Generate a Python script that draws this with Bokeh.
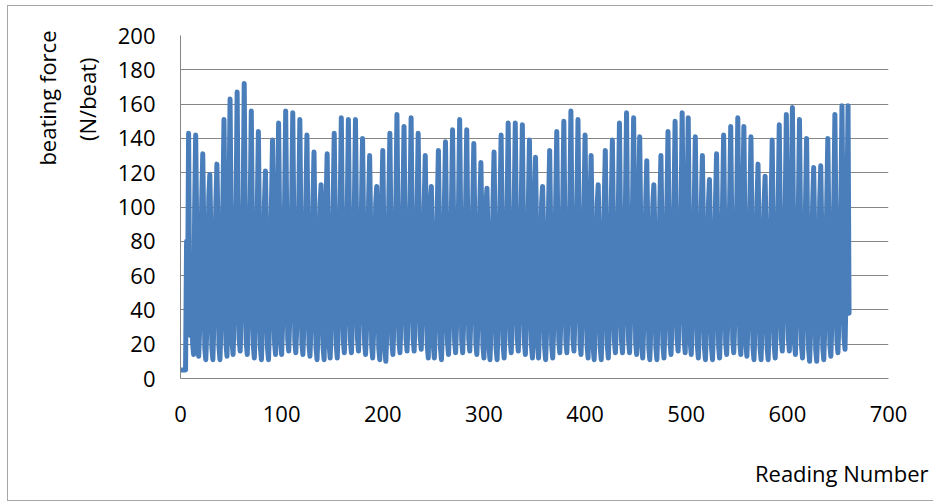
from bokeh.plotting import figure
from bokeh.models import FixedTicker, Title, LinearAxis
from bokeh.embed import file_html
from bokeh.resources import INLINE

# ---- data (beating force readings, N/beat) ----
start_readings = [5, 5, 5, 5, 5, 5, 80, 47]

beats_a = [
    [143, 47, 25, 69, 20, 14, 100],
    [142, 90, 20, 13, 30, 64, 104],
    [131, 88, 18, 11, 28, 62, 106],
    [119, 86, 18, 11, 32, 67, 103],
    [125, 91, 19, 11, 29, 65, 107],
    [151, 93, 20, 13, 50, 104],
    [163, 95, 21, 14, 33, 68, 105],
    [167, 94, 23, 16, 35, 70, 106],
    [172, 96, 21, 14, 31, 66, 104],
    [156, 92, 19, 12, 29, 63, 103],
    [144, 89, 18, 11, 28, 61, 102],
    [121, 86, 18, 11, 30, 64, 105],
    [139, 90, 21, 14, 49, 103],
    [149, 92, 21, 14, 32, 66, 106],
    [156, 94, 23, 16, 34, 69, 105],
    [155, 93, 22, 15, 31, 67, 104],
    [151, 91, 21, 14, 30, 65, 103],
    [142, 90, 20, 13, 29, 63, 104],
    [132, 87, 18, 11, 27, 62, 102],
    [113, 85, 18, 11, 47, 104],
    [131, 88, 19, 12, 30, 64, 105],
    [143, 91, 19, 12, 31, 66, 106],
    [152, 93, 22, 15, 33, 68, 104],
    [151, 92, 22, 15, 32, 67, 105],
]
beats_b = [
    [151, 93, 23, 16, 34, 69, 103],
    [140, 90, 21, 14, 30, 64, 104],
    [130, 88, 19, 12, 28, 62, 102],
    [112, 85, 18, 11, 46, 103],
    [133, 87, 17, 10, 27, 63, 105],
    [143, 91, 21, 14, 31, 66, 104],
    [154, 94, 22, 15, 33, 68, 106],
    [147, 92, 23, 16, 35, 69, 105],
    [152, 93, 23, 16, 34, 68, 104],
    [143, 91, 24, 17, 33, 66, 103],
    [130, 88, 19, 12, 48, 102],
    [112, 85, 19, 12, 29, 63, 104],
    [133, 88, 18, 11, 28, 64, 105],
    [138, 90, 21, 14, 31, 65, 104],
    [145, 92, 22, 15, 32, 67, 106],
    [151, 93, 22, 15, 33, 68, 105],
    [145, 91, 23, 16, 34, 67, 104],
    [137, 89, 21, 14, 30, 64, 103],
    [126, 87, 19, 12, 47, 102],
    [111, 85, 18, 11, 28, 62, 104],
    [132, 88, 18, 11, 29, 64, 105],
    [142, 90, 19, 12, 31, 66, 106],
    [149, 92, 22, 15, 33, 68, 104],
    [149, 93, 23, 16, 34, 69, 105],
]
beats_c = [
    [148, 91, 21, 14, 31, 66, 104],
    [139, 89, 19, 12, 48, 103],
    [129, 87, 19, 12, 29, 63, 102],
    [112, 85, 18, 11, 28, 62, 104],
    [133, 88, 19, 12, 30, 65, 105],
    [144, 91, 22, 15, 32, 67, 106],
    [150, 93, 22, 15, 33, 68, 104],
    [156, 95, 23, 16, 35, 69, 105],
    [151, 92, 21, 14, 31, 66, 104],
    [142, 90, 19, 12, 48, 103],
    [130, 87, 18, 11, 28, 63, 102],
    [113, 85, 18, 11, 29, 62, 104],
    [133, 88, 19, 12, 30, 65, 105],
    [139, 90, 22, 15, 32, 66, 104],
    [149, 92, 22, 15, 33, 68, 106],
    [155, 94, 22, 15, 34, 69, 105],
    [152, 93, 21, 14, 49, 104],
    [141, 90, 19, 12, 30, 64, 103],
    [127, 87, 18, 11, 28, 62, 102],
    [113, 85, 18, 11, 29, 63, 104],
    [130, 88, 19, 12, 30, 65, 105],
    [144, 91, 21, 14, 32, 67, 106],
    [150, 93, 23, 16, 34, 69, 104],
    [155, 94, 22, 15, 49, 105],
]
beats_d = [
    [152, 92, 21, 14, 31, 66, 104],
    [141, 90, 19, 12, 29, 64, 103],
    [130, 87, 18, 11, 28, 62, 102],
    [116, 85, 18, 11, 29, 63, 104],
    [131, 88, 19, 12, 30, 65, 105],
    [142, 90, 21, 14, 32, 66, 106],
    [147, 92, 22, 15, 33, 68, 104],
    [152, 93, 21, 14, 48, 105],
    [147, 91, 20, 13, 30, 65, 104],
    [141, 89, 18, 11, 28, 63, 103],
    [125, 86, 18, 11, 28, 62, 102],
    [118, 85, 18, 11, 29, 64, 104],
    [139, 89, 19, 12, 31, 66, 105],
    [148, 92, 23, 16, 34, 68, 106],
    [154, 94, 23, 16, 50, 105],
    [158, 95, 21, 14, 32, 67, 104],
    [151, 92, 19, 12, 30, 64, 103],
    [140, 88, 17, 10, 27, 62, 102],
    [123, 86, 17, 10, 27, 63, 104],
    [124, 86, 18, 11, 29, 64, 105],
    [140, 90, 20, 13, 31, 66, 106],
    [154, 94, 22, 15, 33, 68, 105],
    [159, 96, 24, 17, 50, 106],
]
end_readings = [159, 38]

x_ticks = [0, 100, 200, 300, 400, 500, 600, 700]
y_ticks = [0, 20, 40, 60, 80, 100, 120, 140, 160, 180, 200]
y_title_lines = ["beating force", "(N/beat)"]
x_title = "Reading Number"

# ---- assemble series ----
force = list(start_readings)
for seg in (beats_a, beats_b, beats_c, beats_d):
    for b in seg:
        force.extend(b)
force.extend(end_readings)
reading = list(range(len(force)))

FONT = "Open Sans"
GRID = "#868686"

p = figure(
    x_range=(0, 700), y_range=(0, 200),
    frame_width=708, frame_height=343,
    min_border_left=172, min_border_right=45,
    min_border_top=29, min_border_bottom=122,
    output_backend="svg", toolbar_location=None,
)
p.styles = {
    "border-left": "1px solid #a6a6a6",
    "border-top": "1px solid #a6a6a6",
    "border-bottom": "1px solid #a6a6a6",
    "margin-left": "7px",
    "margin-top": "5px",
}
p.background_fill_color = "white"
p.border_fill_color = "white"
p.outline_line_color = None

p.line(reading, force, line_color="#4a7ebb", line_width=5,
       line_join="round", line_cap="round")

p.xgrid.grid_line_color = None
p.ygrid.grid_line_color = GRID
p.ygrid.grid_line_width = 1
p.ygrid.ticker = FixedTicker(ticks=y_ticks)

p.xaxis.ticker = FixedTicker(ticks=x_ticks)
p.yaxis.ticker = FixedTicker(ticks=y_ticks)
for ax in (p.xaxis[0], p.yaxis[0]):
    ax.axis_line_color = GRID
    ax.axis_line_width = 1
    ax.major_tick_line_color = None
    ax.minor_tick_line_color = None
    ax.major_tick_out = 0
    ax.major_tick_in = 0
    ax.minor_tick_out = 0
    ax.major_label_text_font = FONT
    ax.major_label_text_font_size = "22px"
    ax.major_label_text_color = "#000000"
p.yaxis.major_label_standoff = 25
p.xaxis.major_label_standoff = 27


def make_title(text, align, offset, valign, standoff):
    return Title(text=text, align=align, offset=offset,
                 vertical_align=valign, standoff=standoff,
                 text_font=FONT, text_font_size="22px",
                 text_font_style="normal", text_color="#000000")


# y-axis title (two lines), stacked outward from the y axis
p.add_layout(make_title(y_title_lines[1], "right", 22, "top", 21), "left")
p.add_layout(make_title(y_title_lines[0], "right", -5, "bottom", 0), "left")

# invisible spacer axis (one white tick, blank label, no line)
# that pushes the x title down towards the lower right corner
spacer = LinearAxis(ticker=FixedTicker(ticks=[0]), axis_line_color=None,
                    major_tick_line_color="#ffffff",
                    minor_tick_line_color=None,
                    major_tick_out=22, major_tick_in=0, minor_tick_out=0,
                    minor_tick_in=0, major_label_standoff=0,
                    major_label_overrides={0: ""},
                    major_label_text_font_size="1px")
p.add_layout(spacer, "below")
# x-axis title at the lower right
p.add_layout(make_title(x_title, "right", -40, "bottom", 18), "below")

open("out.html", "w").write(file_html(p, INLINE))
